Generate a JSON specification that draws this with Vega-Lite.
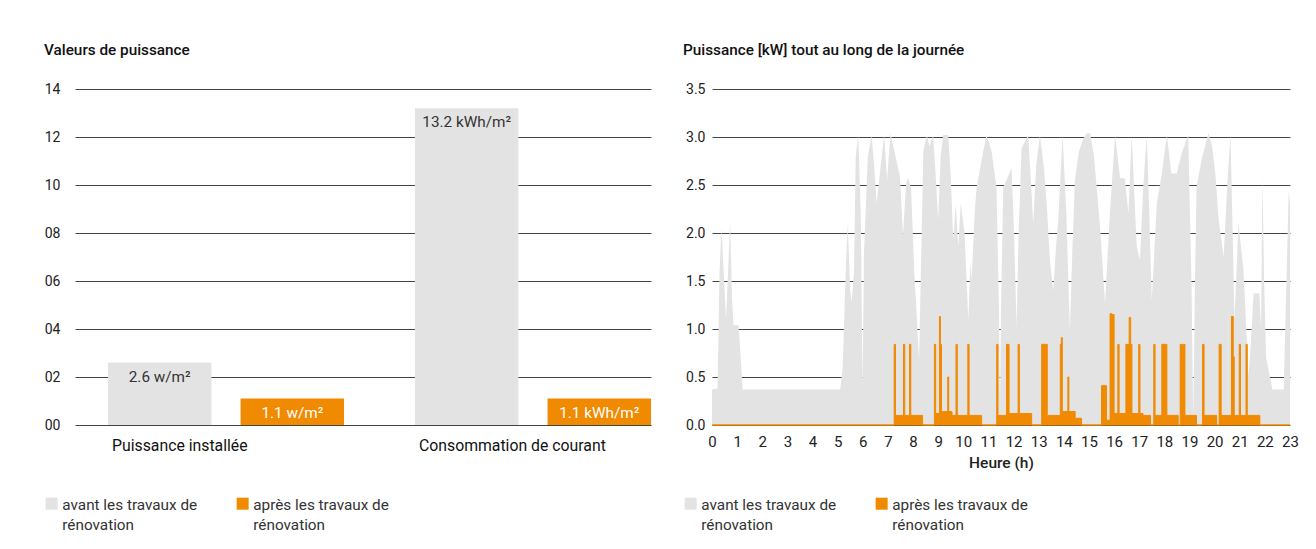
{
  "$schema": "https://vega.github.io/schema/vega-lite/v6.json",
  "padding": {"left": 44, "top": 42, "right": 0, "bottom": 0},
  "background": "white",
  "config": {
    "font": "Roboto",
    "view": {"stroke": null},
    "axis": {"labelColor": "#222", "titleColor": "#222", "domain": false, "ticks": false, "gridColor": "#444", "gridWidth": 1, "gridOpacity": 1, "labelFontSize": 14},
    "legend": {"padding": 0, "titleFontSize": 0},
    "title": {"anchor": "start", "fontSize": 15.3, "fontWeight": 500, "color": "#111", "offset": 24}
  },
  "spacing": 32,
  "resolve": {"scale": {"color": "independent", "x": "independent", "y": "independent"}, "legend": {"color": "independent"}},
  "hconcat": [
    {
      "title": "Valeurs de puissance",
      "width": 576,
      "height": 336,
      "data": {"values": [
        {"cat": "Puissance installée", "period": "avant les travaux de rénovation", "value": 2.6, "label": "2.6 w/m²"},
        {"cat": "Puissance installée", "period": "après les travaux de rénovation", "value": 1.1, "label": "1.1 w/m²"},
        {"cat": "Consommation de courant", "period": "avant les travaux de rénovation", "value": 13.2, "label": "13.2 kWh/m²"},
        {"cat": "Consommation de courant", "period": "après les travaux de rénovation", "value": 1.1, "label": "1.1 kWh/m²"}
      ]},
      "encoding": {
        "x": {"field": "cat", "type": "nominal", "sort": null,
          "scale": {"paddingInner": 0.231, "paddingOuter": 0.0537, "align": 1},
          "axis": {"title": null, "labelAngle": 0, "labelAlign": "left", "labelOffset": -114, "labelPadding": 13, "labelFontSize": 15.8, "labelLimit": 400, "grid": false, "labelColor": "#111"}},
        "xOffset": {"field": "period", "type": "nominal", "sort": null, "scale": {"paddingInner": 0.22, "paddingOuter": 0}},
        "y": {"field": "value", "type": "quantitative", "scale": {"domain": [0, 14], "nice": false},
          "axis": {"title": null, "values": [0, 2, 4, 6, 8, 10, 12, 14], "format": "02d", "labelPadding": 15, "grid": true}}
      },
      "layer": [
        {"mark": {"type": "bar"},
         "encoding": {"color": {"field": "period", "type": "nominal", "sort": null,
           "scale": {"domain": ["avant les travaux de rénovation", "après les travaux de rénovation"], "range": ["#e3e3e3", "#f08a00"]},
           "legend": {"orient": "none", "legendX": -31, "legendY": 407, "direction": "horizontal", "title": null,
             "symbolType": "square", "symbolSize": 144, "symbolStrokeWidth": 0, "labelFontSize": 15.3, "labelColor": "#333",
             "labelOffset": 3, "columnPadding": 37, "labelLimit": 300,
             "labelExpr": "split(replace(datum.label, ' rénovation', '|rénovation'), '|')",
             "encode": {"labels": {"update": {"lineHeight": {"value": 20}, "dy": {"value": 1}}}}}}}},
        {"mark": {"type": "text", "baseline": "middle", "dy": 14, "fontSize": 15.3},
         "encoding": {"text": {"field": "label"},
           "color": {"condition": {"test": "datum.period === 'avant les travaux de rénovation'", "value": "#333"}, "value": "#ffffff"}}}
      ]
    },
    {
      "title": "Puissance [kW] tout au long de la journée",
      "width": 578,
      "height": 336,
      "encoding": {
        "x": {"field": "h", "type": "quantitative", "scale": {"domain": [0, 23], "nice": false},
          "axis": {"title": "Heure (h)", "values": [0,1,2,3,4,5,6,7,8,9,10,11,12,13,14,15,16,17,18,19,20,21,22,23], "labelPadding": 9, "labelFontSize": 15, "labelFlush": false, "grid": false, "titleFontSize": 15.5, "titleFontWeight": 500, "titlePadding": 6}},
        "y": {"field": "kw", "type": "quantitative", "stack": null, "scale": {"domain": [0, 3.5], "nice": false},
          "axis": {"title": null, "values": [0, 0.5, 1, 1.5, 2, 2.5, 3, 3.5], "format": ".1f", "labelPadding": 7, "grid": true}}
      },
      "layer": [
        {
          "data": {"values": [
            {"h":0,"kw":0.37},{"h":0.22,"kw":0.38},{"h":0.3,"kw":1.6},{"h":0.38,"kw":2.06},{"h":0.48,"kw":1.5},{"h":0.56,"kw":1.1},{"h":0.64,"kw":1.6},{"h":0.72,"kw":2.12},{"h":0.8,"kw":1.3},{"h":0.86,"kw":1.04},{"h":1.05,"kw":1.04},{"h":1.12,"kw":0.8},{"h":1.22,"kw":0.37},
            {"h":5.1,"kw":0.37},{"h":5.2,"kw":0.6},{"h":5.32,"kw":1.6},{"h":5.4,"kw":2.1},{"h":5.5,"kw":1.4},{"h":5.56,"kw":1.28},{"h":5.65,"kw":1.6},{"h":5.72,"kw":2.8},{"h":5.82,"kw":3.02},{"h":5.92,"kw":2.2},{"h":5.99,"kw":0.4},{"h":6.05,"kw":1.8},{"h":6.2,"kw":2.8},{"h":6.35,"kw":3.02},{"h":6.45,"kw":2.7},{"h":6.55,"kw":2.31},{"h":6.68,"kw":2.62},{"h":6.85,"kw":3.02},{"h":6.97,"kw":2.55},{"h":7.1,"kw":3.04},{"h":7.3,"kw":2.8},{"h":7.48,"kw":2.59},{"h":7.6,"kw":1.98},{"h":7.72,"kw":2.5},{"h":7.8,"kw":2.58},{"h":7.92,"kw":2.47},{"h":8.05,"kw":1.6},{"h":8.24,"kw":0.68},
            {"h":8.41,"kw":2.85},{"h":8.55,"kw":3.02},{"h":8.65,"kw":2.9},{"h":8.8,"kw":3.02},{"h":8.9,"kw":2.6},{"h":9.0,"kw":2.14},{"h":9.1,"kw":2.8},{"h":9.2,"kw":3.02},{"h":9.4,"kw":3.02},{"h":9.5,"kw":2.6},{"h":9.6,"kw":1.93},{"h":9.7,"kw":2.3},{"h":9.8,"kw":1.86},{"h":9.9,"kw":2.31},{"h":10.05,"kw":2.0},{"h":10.2,"kw":1.09},{"h":10.28,"kw":1.7},{"h":10.33,"kw":1.51},{"h":10.45,"kw":2.2},{"h":10.53,"kw":2.48},{"h":10.73,"kw":2.76},{"h":10.92,"kw":3.02},{"h":11.12,"kw":2.86},{"h":11.32,"kw":2.48},{"h":11.42,"kw":1.2},{"h":11.46,"kw":0.2},{"h":11.5,"kw":1.2},{"h":11.59,"kw":2.48},{"h":11.72,"kw":2.55},{"h":11.92,"kw":2.68},{"h":12.02,"kw":2.0},{"h":12.12,"kw":1.02},{"h":12.2,"kw":2.0},{"h":12.32,"kw":2.88},{"h":12.58,"kw":3.02},{"h":12.7,"kw":2.5},{"h":12.78,"kw":2.1},{"h":12.9,"kw":2.7},{"h":13.05,"kw":3.02},{"h":13.2,"kw":2.7},{"h":13.32,"kw":2.3},{"h":13.45,"kw":1.7},{"h":13.58,"kw":1.4},{"h":13.7,"kw":1.9},{"h":13.78,"kw":2.14},{"h":13.95,"kw":3.02},{"h":14.1,"kw":2.2},{"h":14.24,"kw":0.99},{"h":14.35,"kw":1.9},{"h":14.44,"kw":2.55},{"h":14.6,"kw":2.85},{"h":14.77,"kw":2.98},{"h":14.9,"kw":3.04},{"h":15.05,"kw":3.04},{"h":15.2,"kw":2.8},{"h":15.44,"kw":2.07},{"h":15.64,"kw":1.27},{"h":15.84,"kw":2.24},{"h":16.04,"kw":3.02},{"h":16.24,"kw":2.57},{"h":16.43,"kw":2.57},{"h":16.57,"kw":2.2},{"h":16.7,"kw":3.02},{"h":16.9,"kw":1.86},{"h":17.03,"kw":1.72},{"h":17.16,"kw":2.48},{"h":17.3,"kw":3.02},{"h":17.4,"kw":2.2},{"h":17.5,"kw":1.3},{"h":17.7,"kw":2.31},{"h":17.9,"kw":2.62},{"h":18.1,"kw":3.02},{"h":18.28,"kw":2.62},{"h":18.49,"kw":2.62},{"h":18.69,"kw":2.83},{"h":18.95,"kw":3.02},{"h":19.08,"kw":1.5},{"h":19.15,"kw":0.05},{"h":19.22,"kw":1.5},{"h":19.28,"kw":2.48},{"h":19.48,"kw":2.76},{"h":19.75,"kw":3.04},{"h":19.9,"kw":2.9},{"h":20.03,"kw":2.62},{"h":20.16,"kw":2.14},{"h":20.36,"kw":1.75},{"h":20.5,"kw":2.48},{"h":20.63,"kw":3.02},{"h":20.72,"kw":2.0},{"h":20.79,"kw":1.09},{"h":20.95,"kw":2.1},{"h":21.15,"kw":1.61},{"h":21.35,"kw":0.5},{"h":21.45,"kw":0.9},{"h":21.55,"kw":1.37},{"h":21.78,"kw":1.37},{"h":21.85,"kw":1.0},{"h":21.9,"kw":2.6},{"h":21.97,"kw":1.5},{"h":22.05,"kw":0.7},{"h":22.3,"kw":0.37},{"h":22.75,"kw":0.37},{"h":22.85,"kw":1.4},{"h":22.95,"kw":2.45},{"h":23,"kw":2.3}
          ]},
          "mark": {"type": "area", "interpolate": "linear"},
          "encoding": {"color": {"datum": "avant les travaux de rénovation",
            "scale": {"domain": ["avant les travaux de rénovation", "après les travaux de rénovation"], "range": ["#e3e3e3", "#f08a00"]},
            "legend": {"orient": "none", "legendX": -29, "legendY": 407, "direction": "horizontal", "title": null,
             "symbolType": "square", "symbolSize": 144, "symbolStrokeWidth": 0, "labelFontSize": 15.3, "labelColor": "#333",
             "labelOffset": 3, "columnPadding": 37, "labelLimit": 300,
             "labelExpr": "split(replace(datum.label, ' rénovation', '|rénovation'), '|')",
             "encode": {"labels": {"update": {"lineHeight": {"value": 20}, "dy": {"value": 1}}}}}}}
        },
        {
          "data": {"values": [
            {"h":0,"kw":0},{"h":7.25,"kw":0.84},{"h":7.3,"kw":0.1},{"h":7.62,"kw":0.84},{"h":7.67,"kw":0.1},{"h":7.86,"kw":0.84},{"h":7.91,"kw":0.1},{"h":8.38,"kw":0},
            {"h":8.85,"kw":0.84},{"h":8.9,"kw":0.12},{"h":9.05,"kw":1.13},{"h":9.09,"kw":0.84},{"h":9.13,"kw":0.14},{"h":9.38,"kw":0.5},{"h":9.42,"kw":0.14},{"h":9.55,"kw":0.1},{"h":9.71,"kw":0.84},{"h":9.76,"kw":0.1},{"h":10.18,"kw":0.84},{"h":10.23,"kw":0.1},{"h":10.73,"kw":0},
            {"h":11.33,"kw":0.84},{"h":11.38,"kw":0.1},{"h":11.72,"kw":0.84},{"h":11.82,"kw":0.12},{"h":12.18,"kw":0.84},{"h":12.23,"kw":0.12},{"h":12.72,"kw":0},
            {"h":13.12,"kw":0.84},{"h":13.34,"kw":0.1},{"h":13.86,"kw":0.84},{"h":13.9,"kw":0.91},{"h":13.94,"kw":0.14},{"h":14.16,"kw":0.5},{"h":14.2,"kw":0.14},{"h":14.45,"kw":0.07},{"h":14.7,"kw":0},
            {"h":15.5,"kw":0.41},{"h":15.7,"kw":0.05},{"h":15.84,"kw":1.16},{"h":15.9,"kw":1.15},{"h":16.0,"kw":0.12},{"h":16.15,"kw":0.84},{"h":16.2,"kw":0.12},{"h":16.47,"kw":0.84},{"h":16.6,"kw":1.12},{"h":16.66,"kw":0.84},{"h":16.71,"kw":0.12},{"h":16.98,"kw":0.84},{"h":17.03,"kw":0.12},{"h":17.15,"kw":0.1},{"h":17.45,"kw":0},
            {"h":17.58,"kw":0.84},{"h":17.63,"kw":0.1},{"h":17.9,"kw":0.84},{"h":18.1,"kw":0.1},{"h":18.55,"kw":0},{"h":18.63,"kw":0.84},{"h":18.72,"kw":0.7},{"h":18.76,"kw":0.84},{"h":18.82,"kw":0.1},{"h":19.28,"kw":0},
            {"h":19.52,"kw":0.84},{"h":19.58,"kw":0.1},{"h":20.08,"kw":0},{"h":20.18,"kw":0.84},{"h":20.26,"kw":0.1},{"h":20.67,"kw":1.13},{"h":20.74,"kw":0.71},{"h":20.78,"kw":0.1},{"h":20.98,"kw":0.84},{"h":21.03,"kw":0.1},{"h":21.25,"kw":0.84},{"h":21.3,"kw":0.1},{"h":21.8,"kw":0},{"h":23,"kw":0}
          ]},
          "mark": {"type": "area", "interpolate": "step-after", "stroke": "#f08a00", "strokeWidth": 1},
          "encoding": {"color": {"datum": "après les travaux de rénovation"}}
        }
      ]
    }
  ]
}
